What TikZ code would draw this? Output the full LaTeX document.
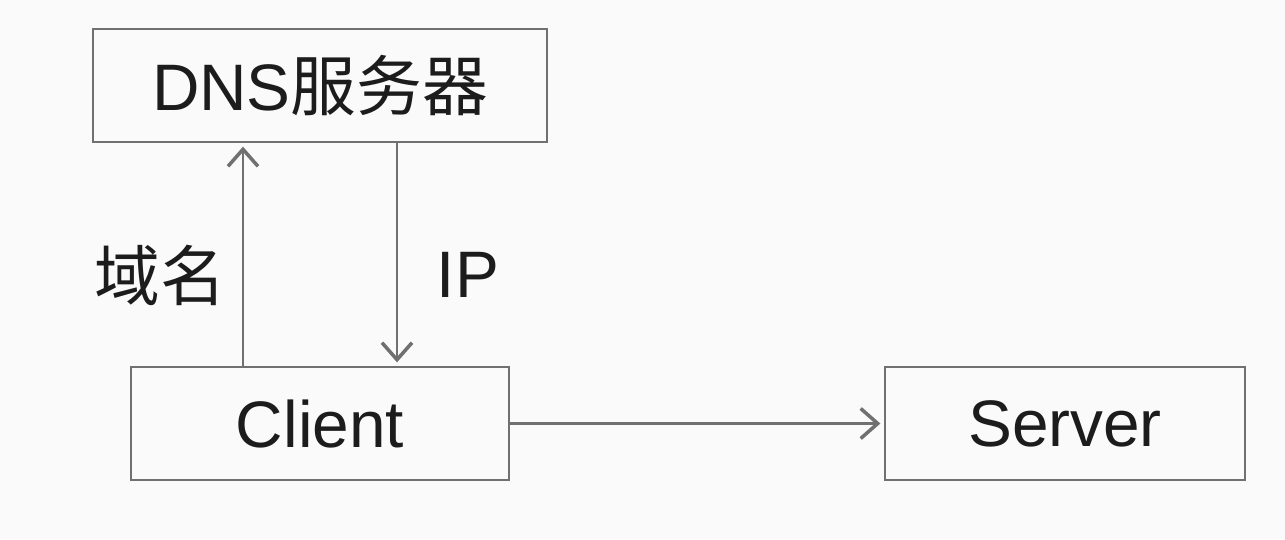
\documentclass[tikz,border=0pt]{standalone}
\usepackage{fontspec}
\setmainfont{Liberation Sans}
\newfontfamily\cjk{Noto Sans CJK SC}
\usetikzlibrary{arrows.meta}
\definecolor{linegray}{HTML}{707070}
\definecolor{textgray}{HTML}{1C1C1C}
\definecolor{paper}{HTML}{FAFAFA}

\begin{document}
\begin{tikzpicture}[>={Straight Barb[length=1.7mm,width=3mm,line width=1pt]},line width=0.65pt]
  \tikzstyle{box}=[draw=linegray,rectangle,minimum height=1.13cm,inner sep=0pt,text=textgray,font=\fontsize{18.7}{22}\selectfont]
  \tikzstyle{flow}=[draw=linegray,->,shorten >=1pt]
  \tikzstyle{lab}=[text=textgray,font=\fontsize{18.7}{22}\selectfont]
  \fill[paper] (0,0) rectangle (12.85,5.39);
  \useasboundingbox (0,0) rectangle (12.85,5.39);
  \node[box,minimum width=4.54cm] (dns) at (3.20,4.535) {DNS{\cjk 服务器}};
  \foreach \name/\lab/\x/\w in {client/Client/3.20/3.78,server/Server/10.65/3.60}
    \node[box,minimum width=\w cm] (\name) at (\x,1.155) {\lab};
  \node[lab] (domain) at (1.60,2.64) {\cjk 域名};
  \node[lab] (ip) at (4.68,2.64) {IP};
  \draw[flow] ([xshift=-7.7mm]client.north) -> ([xshift=-7.7mm]dns.south);
  \draw[flow] ([xshift=7.7mm]dns.south) -> ([xshift=7.7mm]client.north);
  \draw[flow] (client) -> (server);
\end{tikzpicture}
\end{document}
